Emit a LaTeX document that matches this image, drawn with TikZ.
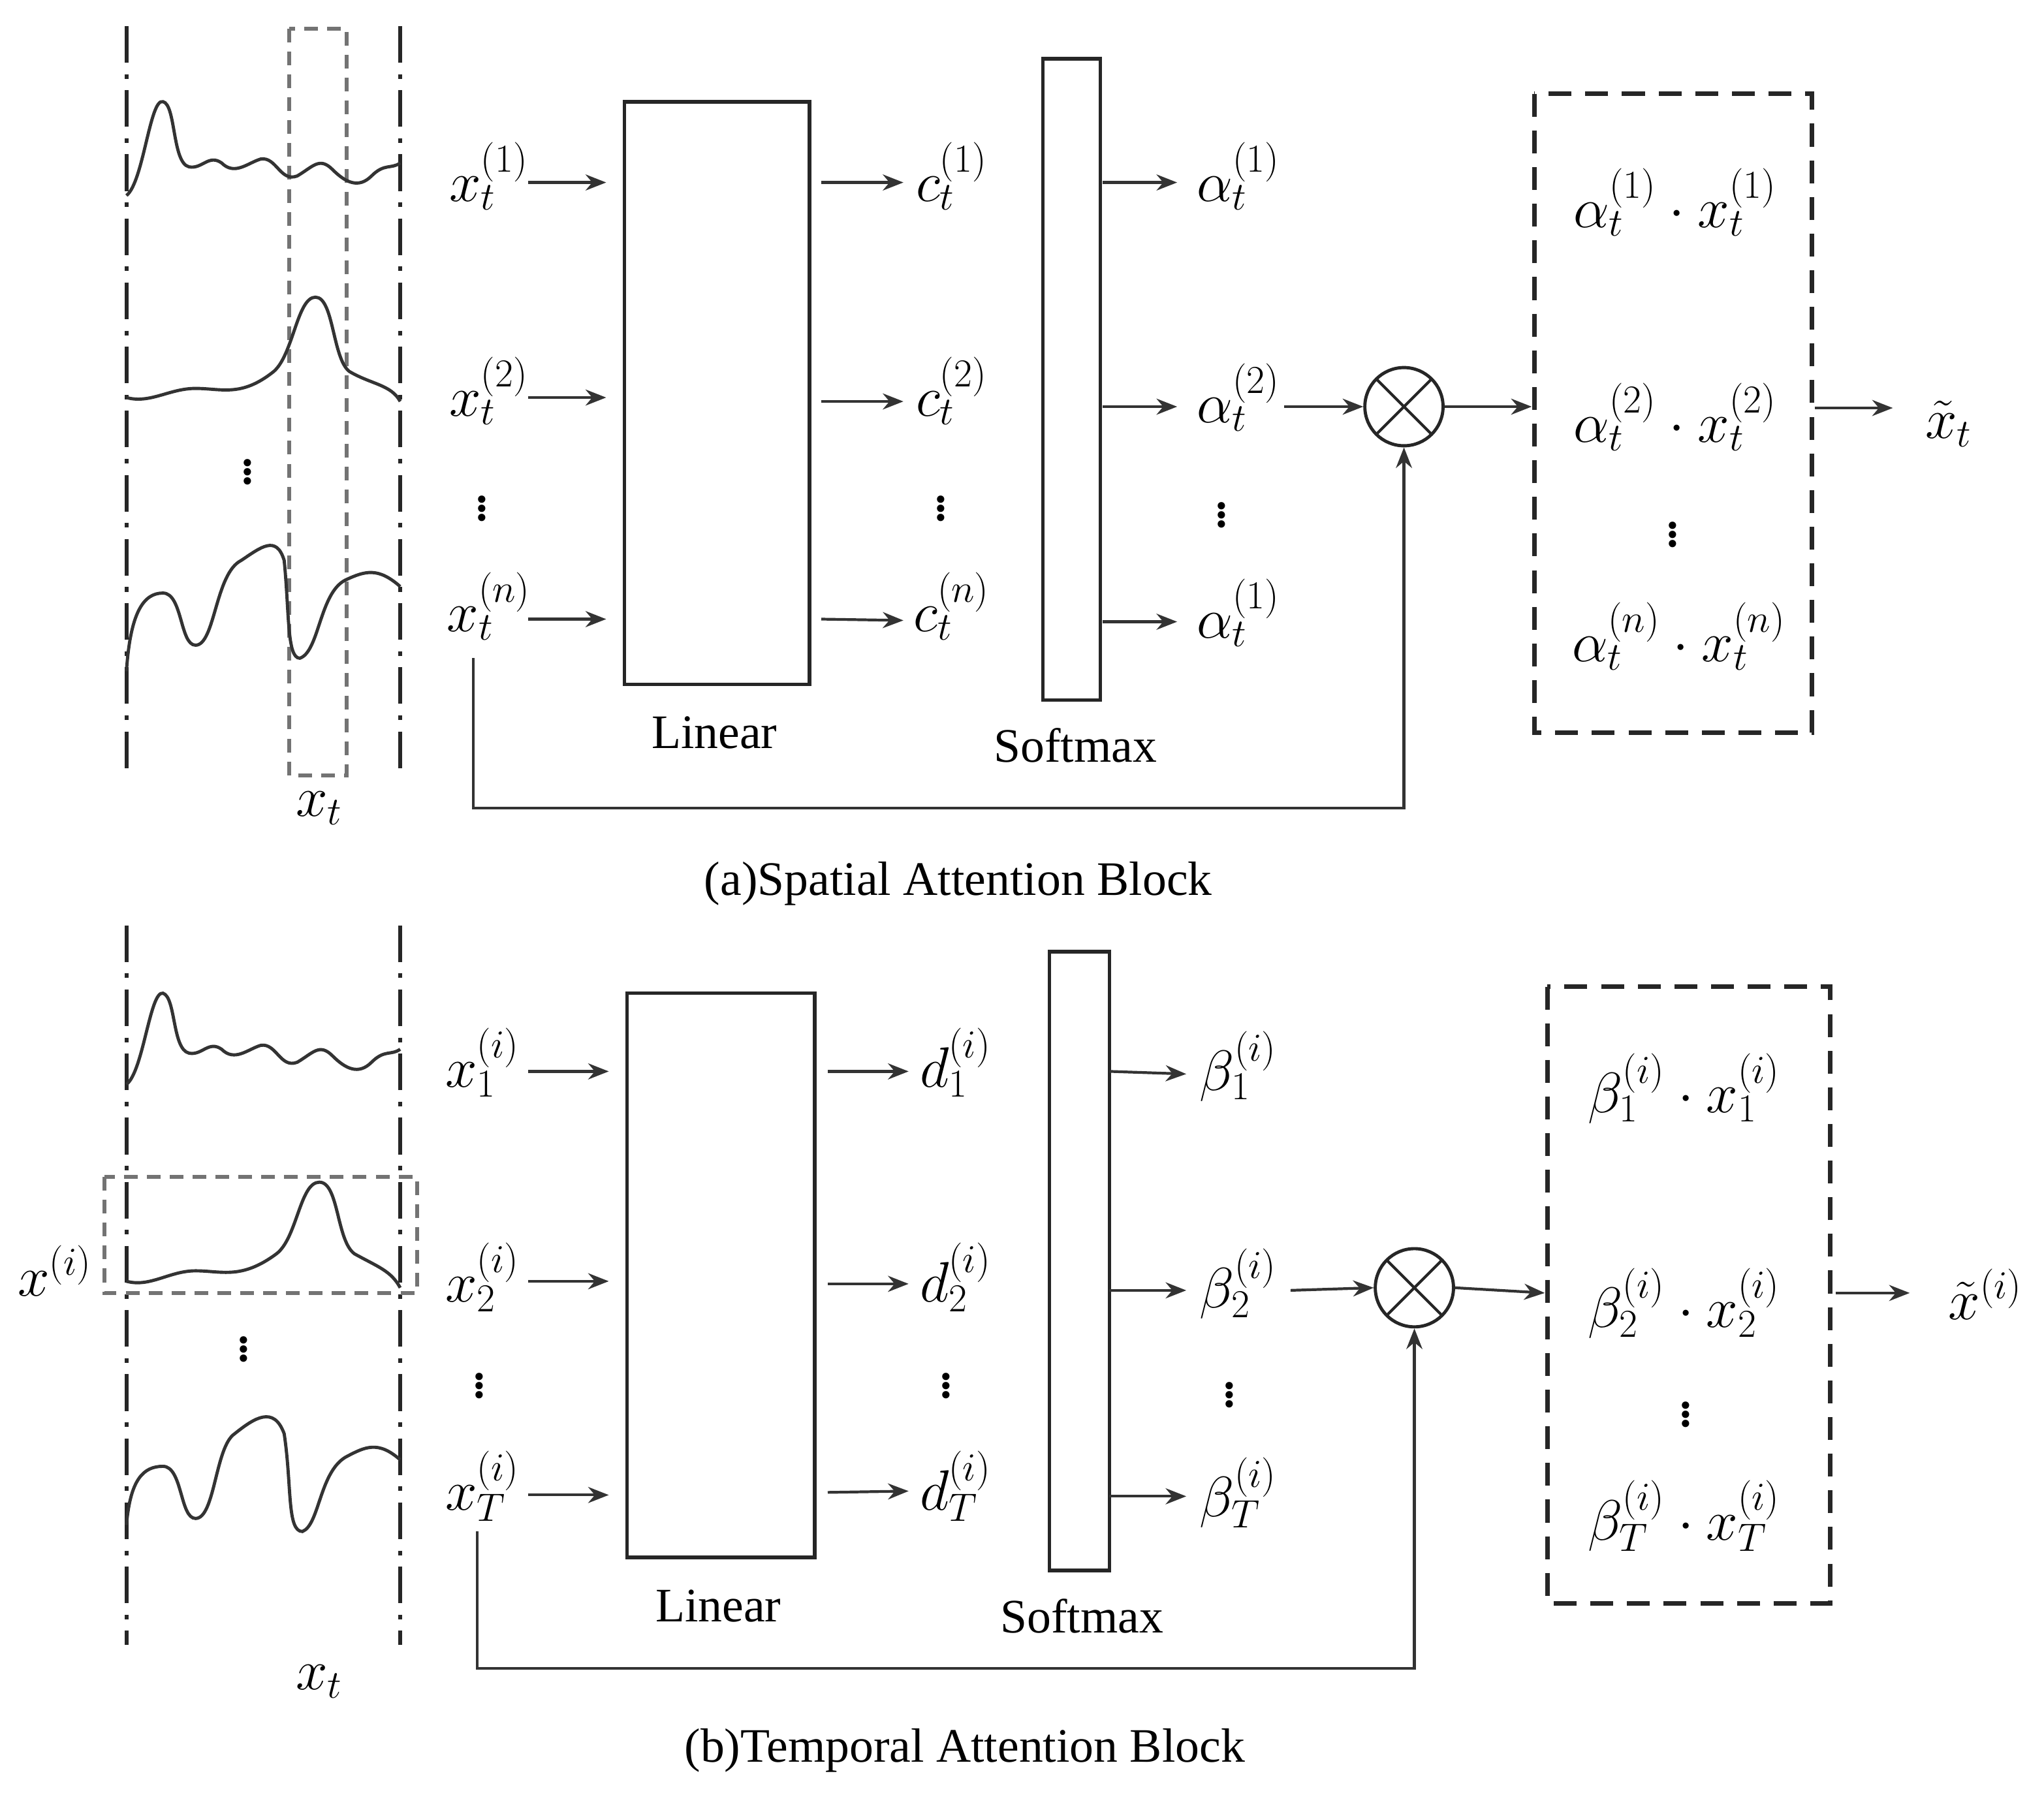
\documentclass[tikz,border=0pt]{standalone}
\usepackage{fontspec}
\setmainfont{Liberation Serif}
\usetikzlibrary{arrows.meta}
\begin{document}
\begin{tikzpicture}[x=0.02cm,y=-0.02cm,
 ar/.style={-{Stealth[length=9pt,width=7pt]},line width=1.2pt,draw=black!80},
 m/.style={font=\fontsize{27}{31}\selectfont,inner sep=1pt},
 lab/.style={font=\fontsize{21}{25}\selectfont},
 blk/.style={draw=black!85,line width=1.6pt},
 dd/.style={line width=1.8pt,draw=black!85,dash pattern=on 16pt off 5pt on 2pt off 5pt},
 gbox/.style={draw=black!55,line width=1.6pt,dash pattern=on 6pt off 4pt},
 kbox/.style={draw=black!85,line width=2pt,dash pattern=on 10pt off 6pt},
 wv/.style={line width=1.4pt,draw=black!80},
 ot/.style={circle,draw=black!85,line width=1.4pt,minimum size=60*0.02cm,inner sep=0pt,path picture={\draw[line width=1.2pt] (path picture bounding box.north west)--(path picture bounding box.south east)(path picture bounding box.north east)--(path picture bounding box.south west);}}]
\useasboundingbox (0,0) rectangle (1568,1377);
% ===== top =====
\draw[dd] (97,20)--(97,595); \draw[dd] (307,20)--(307,595);
\draw[gbox] (222,22) rectangle (266,595);
\draw[wv] (97,150) .. controls (110,140) and (115,75) .. (125,78) .. controls (135,80) and (132,125) .. (145,128) .. controls (155,130) and (160,118) .. (170,125) .. controls (180,135) and (190,125) .. (200,122) .. controls (212,120) and (215,140) .. (228,135) .. controls (240,128) and (245,120) .. (255,130) .. controls (265,140) and (275,145) .. (285,135) .. controls (295,125) and (300,130) .. (307,125);
\draw[wv] (97,305) .. controls (115,310) and (130,298) .. (150,298) .. controls (170,298) and (185,305) .. (210,285) .. controls (225,272) and (228,228) .. (242,228) .. controls (256,228) and (255,275) .. (268,285) .. controls (285,295) and (300,295) .. (307,308);
\node[m] (vd1) at (190,357) {$\vdots$};
\draw[wv] (97,515) .. controls (100,470) and (110,455) .. (125,455) .. controls (140,455) and (138,495) .. (150,495) .. controls (165,495) and (165,440) .. (185,430) .. controls (200,420) and (212,410) .. (218,430) .. controls (222,470) and (220,505) .. (230,505) .. controls (245,500) and (245,455) .. (265,445) .. controls (280,438) and (290,435) .. (307,450);
\node[m] (xtl) at (245,620) {$x_t$};
\node[m] (xa1) at (375,135) {$x_t^{(1)}$};
\node[m] (xa2) at (375,300) {$x_t^{(2)}$};
\node[m] at (370,385) {$\vdots$};
\node[m] (xan) at (375,465) {$x_t^{(n)}$};
\draw[blk] (479,78) rectangle (621,525);
\node[lab] at (548,562) {Linear};
\draw[blk] (800,45) rectangle (844,537);
\node[lab] at (825,572) {Softmax};
\foreach \y in {140,305,475}{\draw[ar] (405,\y)--(465,\y);}
\draw[ar] (630,140)--(693,140); \draw[ar] (630,308)--(693,308); \draw[ar] (630,475)--(693,476);
\node[m] (ca1) at (730,135) {$c_t^{(1)}$};
\node[m] (ca2) at (730,300) {$c_t^{(2)}$};
\node[m] at (722,385) {$\vdots$};
\node[m] (can) at (730,465) {$c_t^{(n)}$};
\draw[ar] (846,140)--(903,140); \draw[ar] (846,312)--(903,312); \draw[ar] (846,477)--(903,477);
\node[m] (aa1) at (950,135) {$\alpha_t^{(1)}$};
\node[m] (aa2) at (950,305) {$\alpha_t^{(2)}$};
\node[m] at (937,390) {$\vdots$};
\node[m] (aan) at (950,470) {$\alpha_t^{(1)}$};
\node[ot] (oa) at (1077,312) {};
\draw[ar] (985,312)--(oa.west);
\draw[kbox] (1177,72) rectangle (1390,562);
\coordinate (boxa) at (1175,312);
\draw[ar] (oa.east)--(boxa);
\node[m] at (1285,155) {$\alpha_t^{(1)}\cdot x_t^{(1)}$};
\node[m] at (1285,320) {$\alpha_t^{(2)}\cdot x_t^{(2)}$};
\node[m] at (1283,405) {$\vdots$};
\node[m] at (1288,488) {$\alpha_t^{(n)}\cdot x_t^{(n)}$};
\node[m] (ya) at (1495,325) {$\tilde{x}_t$};
\draw[ar] (1392,313)--(1452,313);
\coordinate (fa) at (363,505);
\draw[ar] (fa)--(363,620)--(1077,620)--(oa.south);
\node[lab] at (735,678) {(a)Spatial Attention Block};
% ===== bottom =====
\draw[dd] (97,710)--(97,1262); \draw[dd] (307,710)--(307,1262);
\draw[wv] (97,832) .. controls (110,822) and (115,760) .. (125,762) .. controls (135,765) and (132,805) .. (145,808) .. controls (155,810) and (160,798) .. (170,805) .. controls (180,815) and (190,805) .. (200,802) .. controls (212,800) and (215,820) .. (228,815) .. controls (240,808) and (245,800) .. (255,810) .. controls (265,820) and (275,825) .. (285,815) .. controls (295,805) and (300,810) .. (307,805);
\draw[wv] (97,983) .. controls (115,988) and (130,975) .. (150,975) .. controls (170,975) and (185,982) .. (212,962) .. controls (228,950) and (230,907) .. (245,907) .. controls (260,907) and (258,952) .. (272,962) .. controls (290,972) and (300,975) .. (307,988);
\draw[gbox] (80,903) rectangle (320,992);
\node[m] (xil) at (42,975) {$x^{(i)}$};
\node[m] at (187,1030) {$\vdots$};
\draw[wv] (97,1170) .. controls (100,1135) and (110,1125) .. (125,1125) .. controls (140,1125) and (138,1165) .. (150,1165) .. controls (165,1165) and (165,1110) .. (180,1100) .. controls (195,1088) and (210,1078) .. (218,1100) .. controls (224,1140) and (220,1175) .. (232,1175) .. controls (245,1170) and (245,1130) .. (265,1118) .. controls (280,1110) and (290,1105) .. (307,1120);
\node[m] (xtl2) at (245,1290) {$x_t$};
\node[m] (xb1) at (370,815) {$x_1^{(i)}$};
\node[m] (xb2) at (370,980) {$x_2^{(i)}$};
\node[m] at (368,1058) {$\vdots$};
\node[m] (xbn) at (370,1140) {$x_T^{(i)}$};
\draw[blk] (481,762) rectangle (625,1195);
\node[lab] at (551,1232) {Linear};
\draw[blk] (805,730) rectangle (851,1205);
\node[lab] at (830,1240) {Softmax};
\foreach \y in {822,983,1147}{\draw[ar] (405,\y)--(467,\y);}
\draw[ar] (635,822)--(697,822); \draw[ar] (635,985)--(697,985); \draw[ar] (635,1145)--(697,1144);
\node[m] (db1) at (733,815) {$d_1^{(i)}$};
\node[m] (db2) at (733,980) {$d_2^{(i)}$};
\node[m] at (726,1058) {$\vdots$};
\node[m] (dbn) at (733,1140) {$d_T^{(i)}$};
\draw[ar] (851,822)--(910,824); \draw[ar] (851,990)--(910,990); \draw[ar] (851,1148)--(910,1148);
\node[m] (bb1) at (950,818) {$\beta_1^{(i)}$};
\node[m] (bb2) at (950,985) {$\beta_2^{(i)}$};
\node[m] at (943,1065) {$\vdots$};
\node[m] (bbn) at (950,1145) {$\beta_T^{(i)}$};
\node[ot] (ob) at (1085,988) {};
\draw[ar] (990,990)--(ob.west);
\draw[kbox] (1187,757) rectangle (1404,1230);
\coordinate (boxb) at (1185,992);
\draw[ar] (ob.east)--(boxb);
\node[m] at (1292,835) {$\beta_1^{(i)}\cdot x_1^{(i)}$};
\node[m] at (1292,1000) {$\beta_2^{(i)}\cdot x_2^{(i)}$};
\node[m] at (1293,1080) {$\vdots$};
\node[m] at (1292,1163) {$\beta_T^{(i)}\cdot x_T^{(i)}$};
\node[m] (yb) at (1523,993) {$\tilde{x}^{(i)}$};
\draw[ar] (1408,992)--(1465,992);
\coordinate (fb) at (366,1175);
\draw[ar] (fb)--(366,1280)--(1085,1280)--(ob.south);
\node[lab] at (740,1343) {(b)Temporal Attention Block};
\end{tikzpicture}
\end{document}
